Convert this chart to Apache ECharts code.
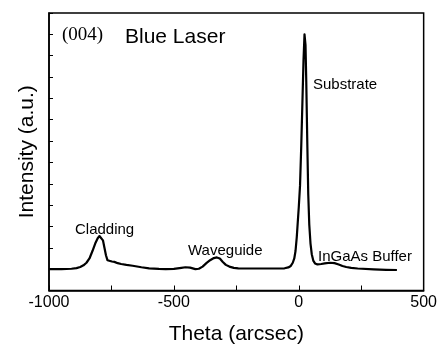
<!DOCTYPE html>
<html>
<head>
<meta charset="utf-8">
<script src="https://cdn.jsdelivr.net/npm/echarts@6/dist/echarts.min.js"></script>
<style>
html,body{margin:0;padding:0;background:#fff;}
#chart{width:440px;height:350px;}
</style>
</head>
<body>
<div id="chart"></div>
<script>
// Theta (arcsec) and intensity (a.u.)
var theta = [-1000, -950, -910, -890, -875, -862, -850, -838, -826, -815, -805, -798, -791, -784, -778, -772, -766, -758, -748, -738, -725, -711, -690, -665, -630, -599, -560, -533, -500, -470, -454, -435, -414, -400, -385, -370, -355, -340, -328, -316, -305, -292, -278, -260, -242, -200, -150, -100, -57, -42, -32, -24, -18, -13, -8, -4, 0, 5, 10, 15, 19, 23, 25, 27, 30, 34, 38, 42, 47, 52, 58, 65, 75, 90, 104, 125, 143, 160, 175, 190, 210, 236, 300, 350, 393];
var intensity = [1.0, 1.0, 1.02, 1.05, 1.1, 1.18, 1.3, 1.5, 1.85, 2.2, 2.45, 2.55, 2.53, 2.35, 2.0, 1.65, 1.42, 1.35, 1.36, 1.34, 1.28, 1.24, 1.2, 1.16, 1.09, 1.04, 1.01, 1.0, 1.01, 1.06, 1.09, 1.07, 1.0, 1.02, 1.12, 1.28, 1.42, 1.52, 1.55, 1.5, 1.35, 1.2, 1.12, 1.06, 1.04, 1.03, 1.03, 1.03, 1.04, 1.08, 1.15, 1.3, 1.5, 1.85, 2.5, 3.2, 3.9, 4.9, 6.8, 9.0, 10.8, 12.0, 12.08, 11.5, 9.8, 7.0, 4.5, 3.1, 2.2, 1.7, 1.4, 1.27, 1.22, 1.24, 1.27, 1.3, 1.28, 1.22, 1.15, 1.1, 1.06, 1.03, 0.99, 0.97, 0.96];
var xTicks = [-1000, -500, 0, 500];
var labels = [
  {text: 'Cladding', x: 75, y: 230},
  {text: 'Waveguide', x: 188, y: 251},
  {text: 'Substrate', x: 313, y: 85},
  {text: 'InGaAs Buffer', x: 318, y: 257}
];

var data = theta.map(function (t, i) { return [t, intensity[i]]; });
var chart = echarts.init(document.getElementById('chart'), null, {renderer: 'canvas'});
var graphics = labels.map(function (l) {
  return {type: 'text', left: l.x, top: l.y - 8,
    style: {text: l.text, fontFamily: 'Liberation Sans, Arial', fontSize: 15, fill: '#000'}};
});
graphics.push({type: 'text', left: 62, top: 26,
  style: {text: '(004)', fontFamily: 'Liberation Serif, Times New Roman', fontSize: 19, fill: '#000'}});
graphics.push({type: 'text', left: 125, top: 27,
  style: {text: 'Blue Laser', fontFamily: 'Liberation Sans, Arial', fontSize: 21, fill: '#000'}});

chart.setOption({
  animation: false,
  backgroundColor: '#fff',
  grid: {left: 49, right: 13, top: 13, bottom: 53, show: true, borderColor: '#000', borderWidth: 1.5, backgroundColor: 'transparent'},
  xAxis: {
    type: 'value', min: xTicks[0], max: xTicks[xTicks.length - 1], interval: 500,
    axisLine: {show: true, onZero: false, lineStyle: {color: '#000', width: 1.5}},
    axisTick: {show: true, inside: true, length: 5, lineStyle: {color: '#000', width: 1}},
    minorTick: {show: true, splitNumber: 2, length: 5, lineStyle: {color: '#000', width: 1}},
    splitLine: {show: false},
    axisLabel: {color: '#000', fontSize: 16, fontFamily: 'Liberation Sans, Arial', margin: 4,
      formatter: function (v) { return String(v); }},
    name: 'Theta (arcsec)', nameLocation: 'middle', nameGap: 44,
    nameTextStyle: {color: '#000', fontSize: 21, fontFamily: 'Liberation Sans, Arial', verticalAlign: 'middle'}
  },
  yAxis: {
    type: 'value', min: 0, max: 13, interval: 1,
    axisLine: {show: true, onZero: false, lineStyle: {color: '#000', width: 1.5}},
    axisTick: {show: true, inside: true, length: 4, lineStyle: {color: '#000', width: 1}},
    splitLine: {show: false},
    axisLabel: {show: false},
    name: 'Intensity (a.u.)', nameLocation: 'middle', nameGap: 22, nameRotate: 90,
    nameTextStyle: {color: '#000', fontSize: 21, fontFamily: 'Liberation Sans, Arial', verticalAlign: 'middle'}
  },
  series: [{
    type: 'line', data: data, showSymbol: false, smooth: false,
    lineStyle: {color: '#000', width: 2.2, join: 'round'}
  }],
  graphic: graphics
});
</script>
</body>
</html>
